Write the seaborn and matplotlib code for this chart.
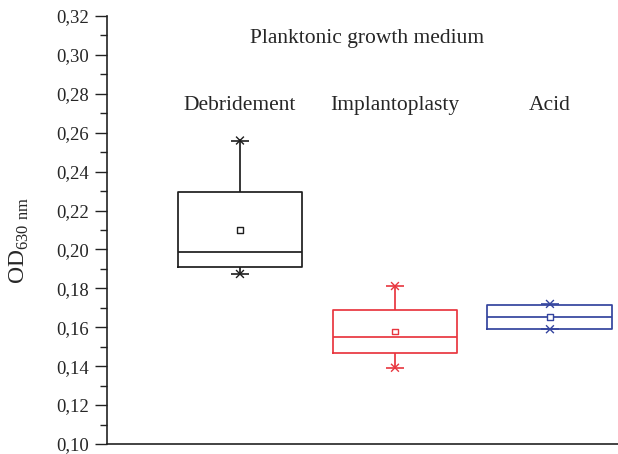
import numpy as np
import pandas as pd
import matplotlib
matplotlib.use("Agg")
import matplotlib.pyplot as plt
from matplotlib.ticker import FixedLocator, MultipleLocator
import seaborn as sns

# ---- data ----
groups = ["Debridement", "Implantoplasty", "Acid"]
mins = [0.1874, 0.1392, 0.1590]
q1s = [0.1908, 0.1466, 0.1590]
medians = [0.1986, 0.1548, 0.1655]
q3s = [0.2295, 0.1690, 0.1714]
maxs = [0.2560, 0.1812, 0.1720]
means = [0.2102, 0.1578, 0.1655]
colors = ["#1e1e1e", "#e8363f", "#34449e"]
yticks = [0.10, 0.12, 0.14, 0.16, 0.18, 0.20, 0.22, 0.24, 0.26, 0.28, 0.30, 0.32]
ytick_labels = ["0,10", "0,12", "0,14", "0,16", "0,18", "0,20", "0,22",
                "0,24", "0,26", "0,28", "0,30", "0,32"]
title_text = "Planktonic growth medium"
ylabel_text = r"OD$_{\mathregular{630\ nm}}$"

sns.set_theme(style="ticks")
plt.rcParams["font.family"] = ["Liberation Serif", "DejaVu Serif"]
plt.rcParams["mathtext.fontset"] = "custom"
plt.rcParams["mathtext.rm"] = "Liberation Serif"

# five-number samples so that seaborn computes exactly these box statistics
rows = []
for g, a, b, c, d, e in zip(groups, mins, q1s, medians, q3s, maxs):
    for v in (a, b, c, d, e):
        rows.append({"group": g, "value": v})
df = pd.DataFrame(rows)
stats = pd.DataFrame({"group": groups, "min": mins, "max": maxs, "mean": means})
pal = dict(zip(groups, colors))

fig = plt.figure(figsize=(6.18, 4.54), dpi=100)
ax = fig.add_axes([107 / 618, 10 / 454, 511 / 618, 428 / 454])

sns.boxplot(data=df, x="group", y="value", hue="group", palette=pal,
            order=groups, hue_order=groups, fill=False, whis=(0, 100),
            width=0.806, showcaps=False, linewidth=1.25, legend=False, ax=ax)

# whisker end markers
for col in ("min", "max"):
    sns.scatterplot(data=stats, x="group", y=col, hue="group", palette=pal,
                    marker="_", s=170, linewidth=1.2, legend=False, ax=ax)
    sns.scatterplot(data=stats, x="group", y=col, hue="group", palette=pal,
                    marker="x", s=32, linewidth=1.0, legend=False, ax=ax)
# means: hollow squares
sns.scatterplot(data=stats, x="group", y="mean", hue="group", palette=pal,
                marker="s", s=18, linewidth=1.0, legend=False, ax=ax)
mcoll = ax.collections[-1]
fc = mcoll.get_facecolors()
mcoll.set_edgecolors(fc)
mcoll.set_facecolors("white")
mcoll.set_zorder(5)

ax.set_xlim(-0.858, 2.439)
ax.set_ylim(0.10, 0.32)
ax.yaxis.set_major_locator(FixedLocator(yticks))
ax.set_yticklabels(ytick_labels)
ax.yaxis.set_minor_locator(MultipleLocator(0.01))
ax.tick_params(axis="y", which="major", direction="out", length=9, width=1.0,
               labelsize=13.5, color="#222222", pad=4)
ax.tick_params(axis="y", which="minor", direction="out", length=5, width=1.0,
               color="#222222")
ax.tick_params(axis="x", bottom=False, labelbottom=False)
ax.set_xlabel("")
ax.set_ylabel(ylabel_text, fontsize=17)
ax.yaxis.set_label_coords(-0.149, 0.477)

for s in ("top", "right"):
    ax.spines[s].set_visible(False)
for s in ("left", "bottom"):
    ax.spines[s].set_linewidth(1.2)
    ax.spines[s].set_color("#222222")

ax.text(0.82, 0.3085, title_text, ha="center", va="center", fontsize=15.5)
for i, g in enumerate(groups):
    ax.text(i, 0.2740, g, ha="center", va="center", fontsize=15.5)

fig.savefig("out.png", dpi=100)
